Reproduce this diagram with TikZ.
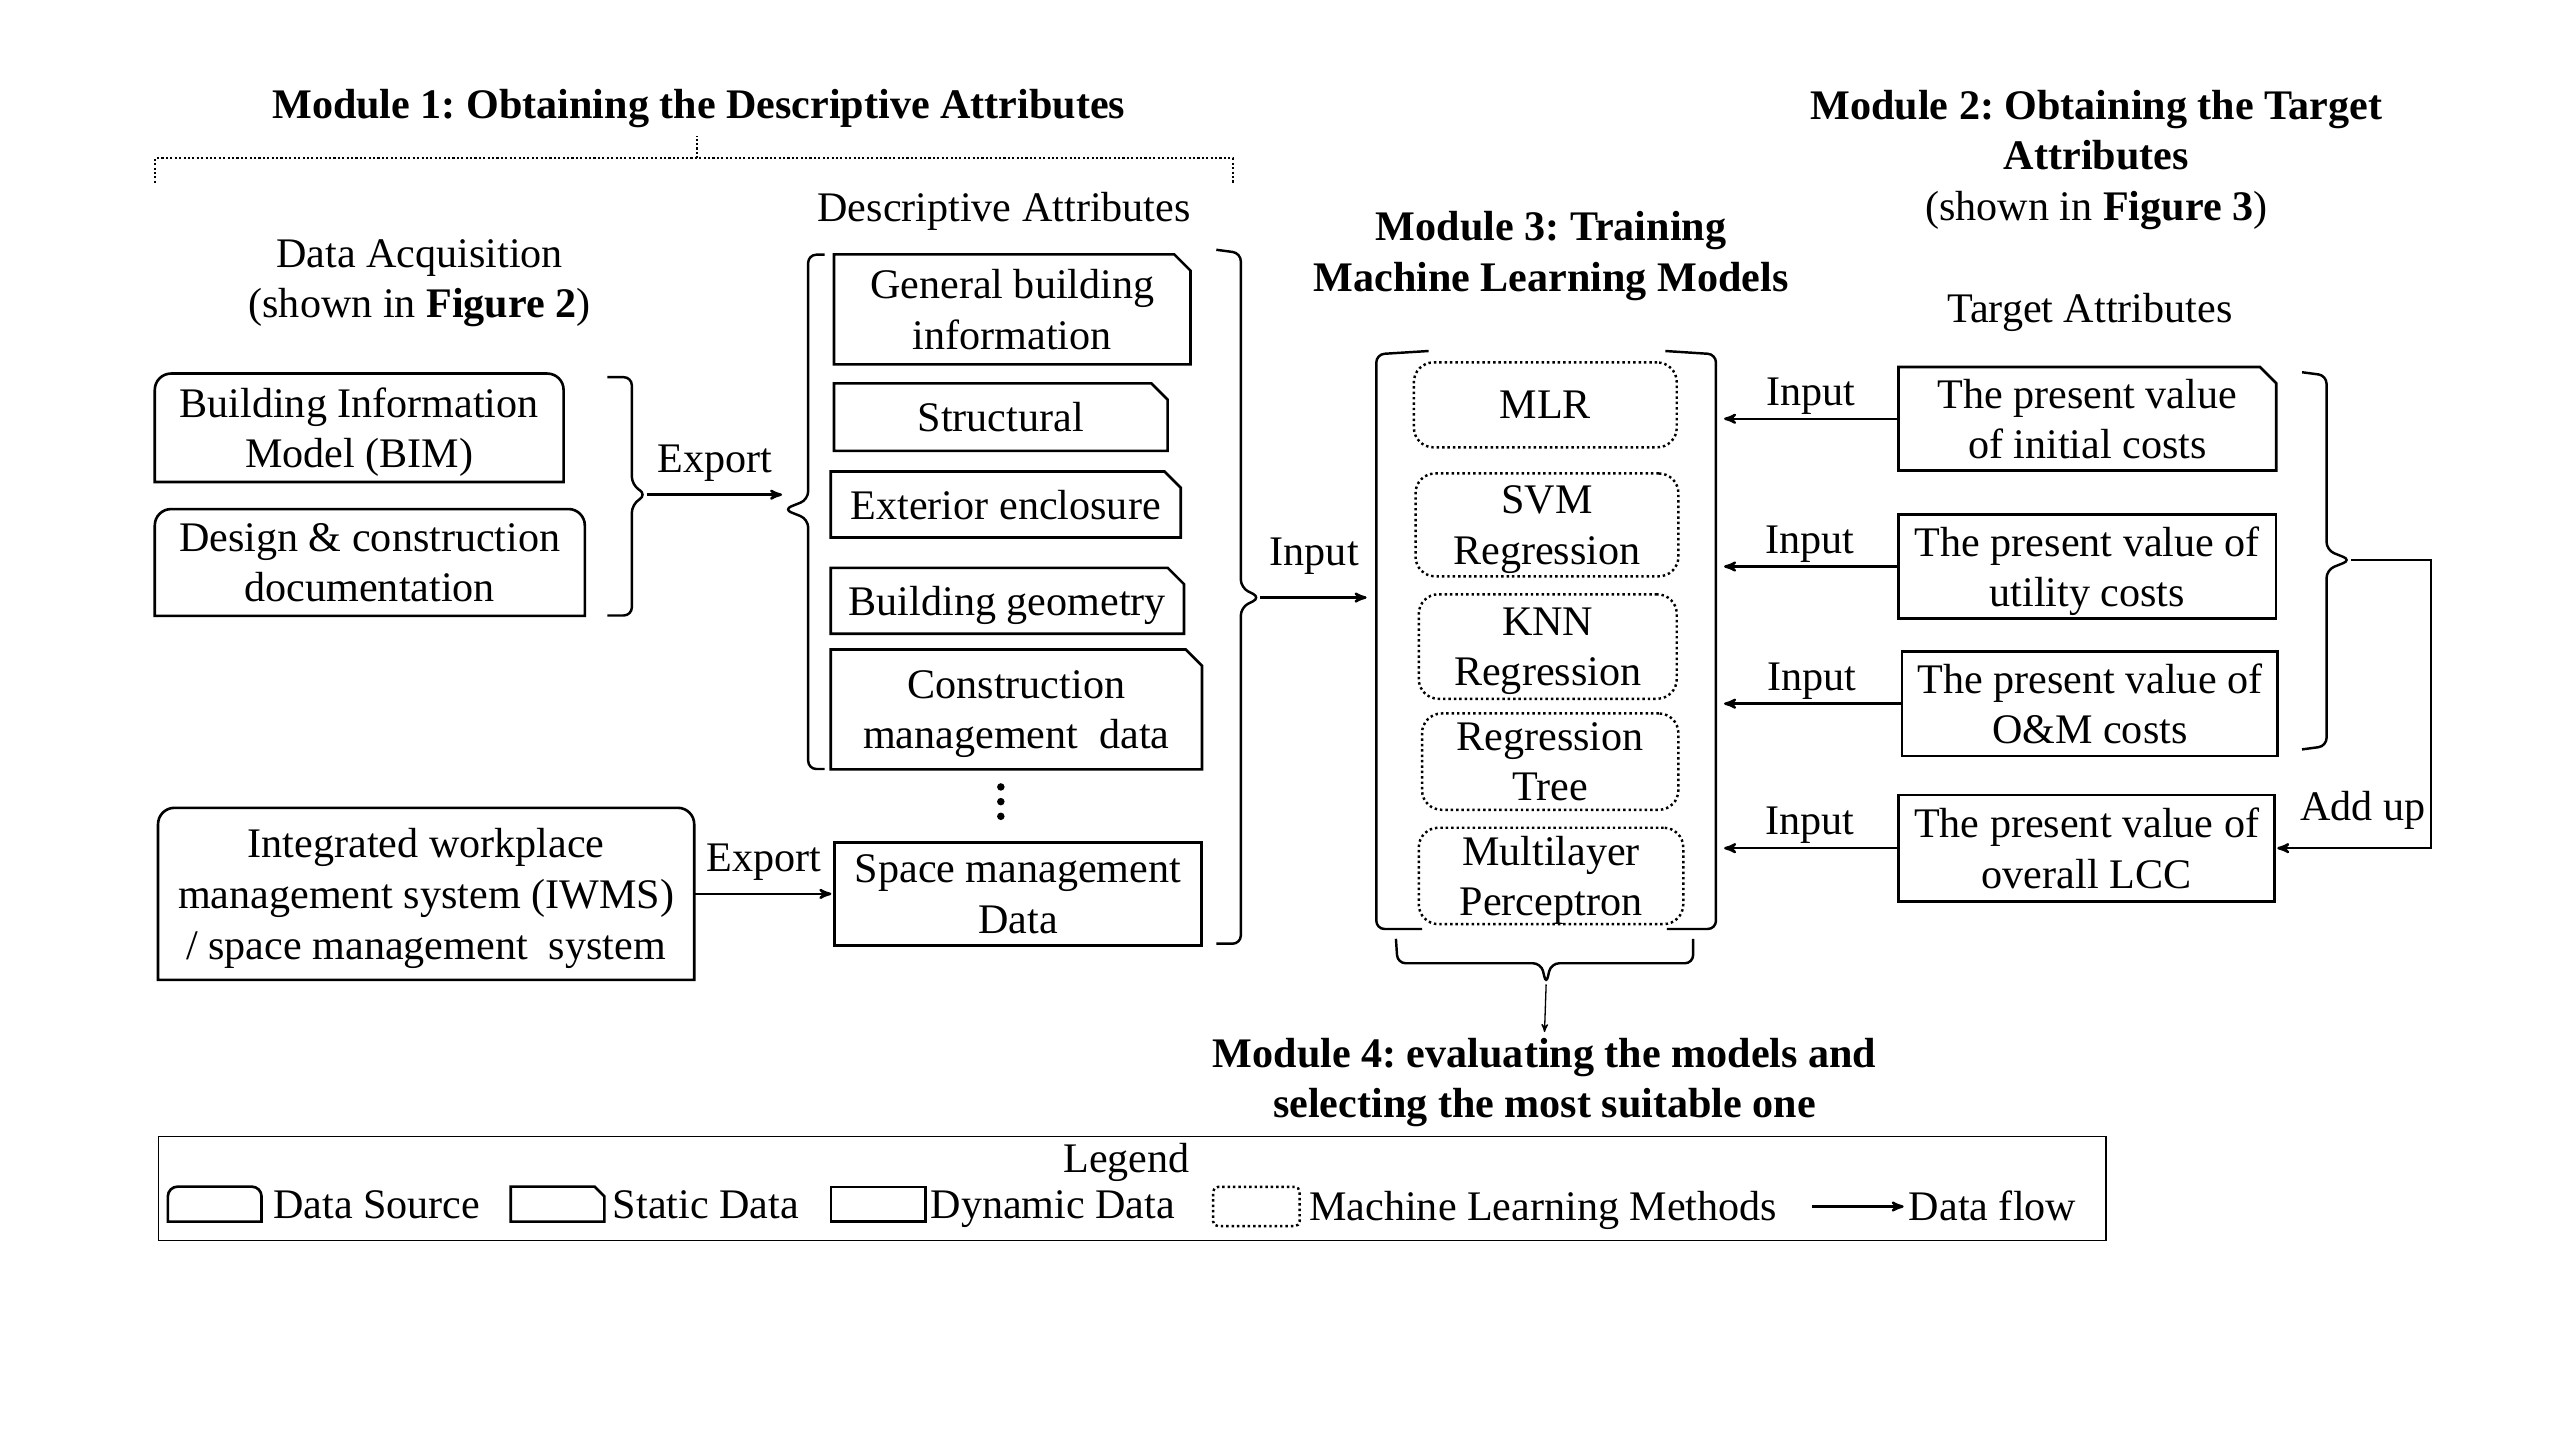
\documentclass[tikz,border=0pt]{standalone}
\usepackage{fontspec}
\setmainfont{Liberation Serif}
\usetikzlibrary{arrows,positioning}

\tikzset{box size/.style 2 args={minimum width=#1pt,minimum height=#2pt}}

\begin{document}
\frenchspacing
\begin{tikzpicture}[x=1pt,y=-1pt,>=stealth',
  font=\fontsize{25.8}{31}\selectfont,
  box line/.style={line width=1.6pt},
  box text/.style={inner sep=0pt,align=center,text depth=-6pt},
  src node/.style={box text,
    append after command={\pgfextra{\draw[box line]
      (\tikzlastnode.south west) -- ([yshift=-#1]\tikzlastnode.north west)
      arc[start angle=180,end angle=90,radius=#1]
      -- ([xshift=-#1]\tikzlastnode.north east)
      arc[start angle=90,end angle=0,radius=#1]
      -- (\tikzlastnode.south east) -- cycle;}}},
  src node/.default=10pt,
  static node/.style={box text,
    append after command={\pgfextra{\draw[box line]
      (\tikzlastnode.south west) -- (\tikzlastnode.north west)
      -- ([xshift=-#1]\tikzlastnode.north east)
      -- ([yshift=-#1]\tikzlastnode.north east)
      -- (\tikzlastnode.south east) -- cycle;}}},
  static node/.default=10pt,
  dynamic node/.style={draw,box line,box text},
  ml node/.style={draw,line width=1.5pt,dash pattern=on 1.5pt off 1.8pt,
    rounded corners=12pt,box text},
  brace line/.style={line width=1.5pt,rounded corners=5pt},
  dot line/.style={line width=1.3pt,dash pattern=on 1.3pt off 1.4pt},
  flow/.style={->,line width=1.5pt,shorten >=1pt},
  module title/.style={font=\fontsize{25.8}{31}\selectfont\bfseries,align=center},
  arrow text/.style={inner sep=2pt},
  item text/.style={inner sep=2pt,text height=17pt,text depth=5pt,yshift=-2.8pt}]

  \useasboundingbox (0,0) rectangle (1568,882);

  % Module 1
  \node[module title] (m1) at (428,66.5) {Module 1: Obtaining the Descriptive Attributes};
  \draw[dot line] (95,112) -- (95,97) -- (755,97) -- (755,112);
  \draw[dot line] (427,97) -- (427,83);
  \node[align=center] (acqHead) at (257,173.5) {Data Acquisition\\(shown in \textbf{Figure 2})};
  \node (descHead) at (615,129.5) {Descriptive Attributes};

  \node[src node, box size={250}{66}] (bim) at (220,262) {Building Information\\Model (BIM)};
  \node[src node, box size={263}{65}] (design) at (226.5,344.5) {Design \& construction\\documentation};
  \node[src node, box size={328}{105}] (iwms) at (261,547.5)
    {Integrated workplace\\management system (IWMS)\\/ space management\ \ system};

  \node[static node, box size={218}{67}] (gen) at (620,189.5) {General building\\information};
  \node[static node, box size={204}{41}] (struct) at (613,255.5) {Structural};
  \node[static node, box size={214}{40}] (ext) at (616,309) {Exterior enclosure};
  \node[static node, box size={216}{40}] (geo) at (617,368) {Building geometry};
  \node[static node, box size={227}{73}] (cons) at (622.5,434.5) {Construction\\management\ \ data};
  \fill (613,482) circle (2.3pt) (613,491) circle (2.3pt) (613,500) circle (2.3pt);
  \node[dynamic node, box size={225}{63}] (space) at (623.5,547.5) {Space management\\Data};

  % Module 3
  \node[module title] (m3) at (950,157) {Module 3: Training\\Machine Learning Models};
  \node[ml node, box size={161}{52}] (mlr) at (946.5,248) {MLR};
  \node[ml node, box size={161}{63}] (svm) at (947.5,321.5) {SVM\\Regression};
  \node[ml node, box size={158}{64}] (knn) at (948,396) {KNN\\Regression};
  \node[ml node, box size={157}{59}] (rtree) at (949.5,466.5) {Regression\\Tree};
  \node[ml node, box size={162}{59}] (mlp) at (950,536.5) {Multilayer\\Perceptron};

  % Module 2
  \node[align=center] (m2) at (1284,98)
    {\textbf{Module 2: Obtaining the Target}\\\textbf{Attributes}\\(shown in \textbf{Figure 3})};
  \node (tgtHead) at (1280,191.5) {Target Attributes};
  \node[static node, box size={231}{63}] (init) at (1278.5,256.5) {The present value\\of initial costs};
  \node[dynamic node, box size={231}{64}] (util) at (1278.5,347) {The present value of\\utility costs};
  \node[dynamic node, box size={230}{64}] (om) at (1280,431) {The present value of\\O\&M costs};
  \node[dynamic node, box size={230}{65}] (lcc) at (1278,519.5) {The present value of\\overall LCC};

  % Module 4
  \node[module title] (m4) at (946,663) {Module 4: evaluating the models and\\selecting the most suitable one};

  % brackets and data flow
  \draw[brace line] (372,231) -- (387,231) -- (387,297) -- (396,303) -- (387,309) -- (387,377) -- (372,377);
  \coordinate (acqTip) at (396,303);
  \draw[brace line] (505,156) -- (495,156) -- (495,306) -- (480,312) -- (495,318) -- (495,471) -- (505,471);
  \coordinate (descIn) at (480,312);
  \draw[flow] (acqTip) -- (acqTip -| descIn) node[midway,above=5.5pt,arrow text] {Export};
  \draw[flow] (iwms.east) -- (space.west) node[midway,above=5.5pt,arrow text] {Export};

  \draw[brace line] (745,153) -- (760,155) -- (760,360) -- (772,366) -- (760,372) -- (760,578) -- (745,578);
  \coordinate (descOut) at (772,366);
  \coordinate (mlL) at (838,366);
  \draw[flow] (descOut) -- (mlL) node[midway,above=11.5pt,arrow text] {Input};

  \draw[brace line] (875,215) -- (843,217) -- (843,569) -- (871,569);
  \draw[brace line] (1020,215) -- (1051,217) -- (1051,569) -- (1021,569);
  \coordinate (mlR) at (1055,300);
  \path[flow,every node/.style={arrow text,above=0pt}]
    (init.west) edge node {Input} (init.west -| mlR)
    (util.west) edge node {Input} (util.west -| mlR)
    (om.west) edge node {Input} (om.west -| mlR)
    (lcc.west) edge node {Input} (lcc.west -| mlR);

  \draw[brace line] (855,575) -- (856,590) -- (944,590) -- (947,603) -- (950,590) -- (1037,590) -- (1037,575);
  \coordinate (evalTip) at (947,603);
  \draw[->,line width=0.8pt] (evalTip) -- (m4.north);

  \draw[brace line] (1410,228) -- (1425,230) -- (1425,337) -- (1440,343) -- (1425,349) -- (1425,457) -- (1410,459);
  \coordinate (sumTip) at (1440,343);
  \coordinate (addCorner) at (1489,343);
  \draw[flow] (sumTip) -- (addCorner) |- (lcc.east) node[pos=0.72,above=8.5pt,arrow text] {Add up};

  % Legend
  \node[draw,line width=0.8pt,box size={1193}{64}] (legend) at (693.5,728) {};
  \node (legTitle) at (690,712) {Legend};
  \node[src node=6pt, box size={57}{21}] (lgSrc) at (131.5,737.5) {};
  \node[item text, right=5pt of lgSrc] (lgSrcTxt) {Data Source};
  \node[static node=6pt, box size={57}{21}] (lgStat) at (341.5,737.5) {};
  \node[item text, right=3pt of lgStat] (lgStatTxt) {Static Data};
  \node[dynamic node, box size={58}{21}] (lgDyn) at (538,737.5) {};
  \node[item text, right=0pt of lgDyn] (lgDynTxt) {Dynamic Data};
  \node[ml node, rounded corners=3pt, box size={53}{24}] (lgMl) at (769.5,739) {};
  \node[item text, right=3pt of lgMl] (lgMlTxt) {Machine Learning Methods};
  \coordinate (lgArrow) at (1110,739);
  \node[item text, anchor=west] (lgFlow) at (1167,739) {Data flow};
  \draw[flow] (lgArrow) -- (lgArrow -| lgFlow.west);
\end{tikzpicture}
\end{document}
